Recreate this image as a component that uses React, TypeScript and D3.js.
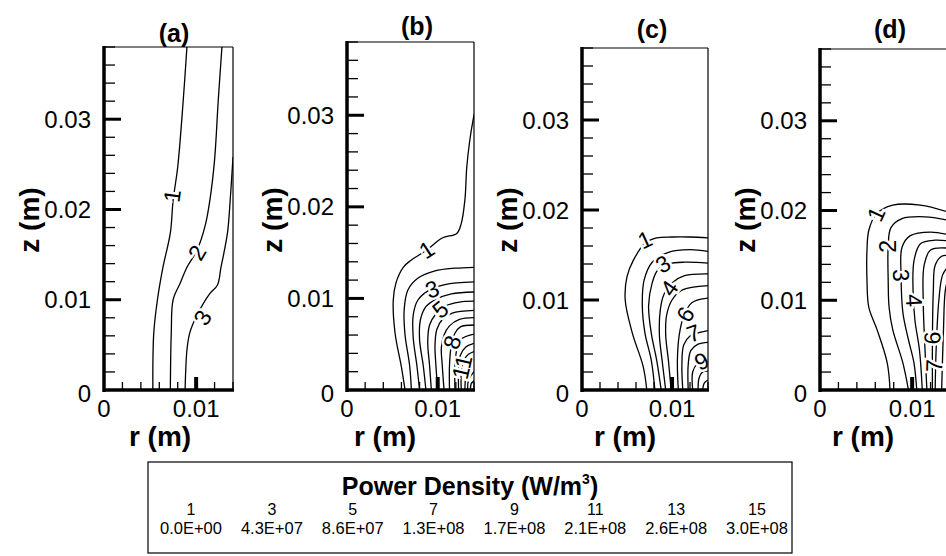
import React from "react";
import * as d3 from "d3";

type Pt = [number, number];
type Contour = [number, Pt[]];
type Label = [number, number, number];

// axis ranges (m)
const rDomain: [number, number] = [0, 0.014];
const zDomain: [number, number] = [0, 0.038];
const rTickLabels = [0, 0.01];
const zTickLabels = [0, 0.01, 0.02, 0.03];
const rMajor = [0.01];
const zMajor = [0.01, 0.02, 0.03];
const panelTitles = ["(a)", "(b)", "(c)", "(d)"];

// contour lines: [level, [[r, z], ...]]
const contoursA: Contour[] = [
  [1, [[0.0053, 0], [0.0054, 0.0063], [0.0058, 0.01], [0.0064, 0.0136], [0.0072, 0.0174], [0.0075, 0.021], [0.008, 0.0247], [0.0086, 0.0321], [0.009, 0.038]]],
  [2, [[0.0072, 0], [0.0073, 0.0063], [0.0075, 0.01], [0.0083, 0.0119], [0.009, 0.0136], [0.0101, 0.0155], [0.011, 0.0183], [0.0115, 0.0211], [0.012, 0.0255], [0.0124, 0.0321], [0.0128, 0.038]]],
  [3, [[0.0088, 0], [0.009, 0.0044], [0.0093, 0.0063], [0.0101, 0.0083], [0.0115, 0.0107], [0.0123, 0.0116], [0.0127, 0.0136], [0.0134, 0.0174], [0.0137, 0.0211], [0.014, 0.0258]]],
];
const labelsA: Label[] = [[1, 0.0074, 0.0215], [2, 0.0101, 0.0152], [3, 0.0107, 0.008]];

const contoursB: Contour[] = [
  [1, [[0.0064, 0], [0.006, 0.0025], [0.0053, 0.0062], [0.0051, 0.0098], [0.0054, 0.0117], [0.0062, 0.0134], [0.0071, 0.0142], [0.0088, 0.0153], [0.0105, 0.0166], [0.0121, 0.0171], [0.0126, 0.0182], [0.013, 0.0208], [0.0132, 0.0243], [0.0135, 0.027], [0.0139, 0.0295], [0.0141, 0.0304]]],
  [2, [[0.0071, 0], [0.0069, 0.0027], [0.0064, 0.006], [0.0063, 0.0087], [0.0067, 0.0109], [0.0078, 0.0122], [0.0097, 0.013], [0.0119, 0.0133], [0.014, 0.0134]]],
  [3, [[0.008, 0], [0.0077, 0.0027], [0.0073, 0.0057], [0.0073, 0.0082], [0.0078, 0.0098], [0.0089, 0.0108], [0.0108, 0.0115], [0.014, 0.0118]]],
  [4, [[0.0087, 0], [0.0084, 0.0027], [0.008, 0.0055], [0.0081, 0.0077], [0.0087, 0.0091], [0.0098, 0.0099], [0.0115, 0.0105], [0.014, 0.0107]]],
  [5, [[0.0093, 0], [0.0091, 0.0027], [0.0089, 0.0052], [0.0091, 0.0071], [0.0098, 0.0083], [0.0109, 0.0092], [0.0124, 0.0096], [0.014, 0.0097]]],
  [6, [[0.01, 0], [0.0098, 0.0027], [0.0097, 0.0049], [0.0099, 0.0066], [0.0105, 0.0077], [0.0116, 0.0084], [0.014, 0.0087]]],
  [7, [[0.0107, 0], [0.0105, 0.0027], [0.0104, 0.0046], [0.0107, 0.006], [0.0113, 0.007], [0.0124, 0.0077], [0.014, 0.0079]]],
  [8, [[0.0113, 0], [0.0113, 0.0027], [0.0115, 0.0049], [0.0119, 0.0062], [0.0125, 0.0069], [0.014, 0.0071]]],
  [9, [[0.0119, 0], [0.0119, 0.0027], [0.0121, 0.0044], [0.0125, 0.0055], [0.014, 0.0061]]],
  [10, [[0.0123, 0], [0.0123, 0.0022], [0.0125, 0.0038], [0.0131, 0.0047], [0.014, 0.0051]]],
  [11, [[0.0126, 0], [0.0126, 0.002], [0.0129, 0.0033], [0.0134, 0.0039], [0.014, 0.0042]]],
  [12, [[0.013, 0], [0.0131, 0.0016], [0.0134, 0.0026], [0.014, 0.0031]]],
  [13, [[0.0133, 0], [0.0134, 0.0011], [0.014, 0.002]]],
  [14, [[0.0136, 0], [0.0137, 0.0007], [0.014, 0.001]]],
];
const labelsB: Label[] = [[1, 0.0088, 0.0153], [3, 0.0094, 0.011], [5, 0.0103, 0.0088], [8, 0.0116, 0.0052], [11, 0.0127, 0.0025]];

const contoursC: Contour[] = [
  [1, [[0.0072, 0], [0.0068, 0.0026], [0.0056, 0.0063], [0.0048, 0.01], [0.005, 0.0126], [0.0057, 0.0144], [0.007, 0.0163], [0.0083, 0.0169], [0.01, 0.017], [0.012, 0.017], [0.014, 0.0169]]],
  [2, [[0.0081, 0], [0.0077, 0.0033], [0.007, 0.0063], [0.0067, 0.0094], [0.0069, 0.0122], [0.0078, 0.0142], [0.0096, 0.0153], [0.012, 0.0156], [0.014, 0.0154]]],
  [3, [[0.0088, 0], [0.0083, 0.0033], [0.0077, 0.0063], [0.0074, 0.0094], [0.0078, 0.0119], [0.0084, 0.0133], [0.0096, 0.014], [0.0114, 0.0142], [0.014, 0.0141]]],
  [4, [[0.0093, 0], [0.0089, 0.0033], [0.0086, 0.0061], [0.0087, 0.0089], [0.0091, 0.0106], [0.01, 0.0119], [0.0114, 0.0127], [0.014, 0.0129]]],
  [5, [[0.0099, 0], [0.0096, 0.0033], [0.0093, 0.0061], [0.0094, 0.0083], [0.01, 0.01], [0.0111, 0.0111], [0.014, 0.0116]]],
  [6, [[0.0107, 0], [0.0106, 0.0033], [0.0108, 0.0061], [0.0113, 0.0082], [0.0122, 0.0097], [0.014, 0.0102]]],
  [7, [[0.0112, 0], [0.0111, 0.0028], [0.0113, 0.005], [0.012, 0.006], [0.0131, 0.0064], [0.014, 0.0066]]],
  [8, [[0.0118, 0], [0.0118, 0.0028], [0.0121, 0.0044], [0.0129, 0.0051], [0.014, 0.0053]]],
  [9, [[0.0123, 0], [0.0123, 0.002], [0.0128, 0.0029], [0.0134, 0.0032], [0.014, 0.0033]]],
  [10, [[0.0129, 0], [0.013, 0.0013], [0.0134, 0.002], [0.014, 0.0021]]],
  [11, [[0.0134, 0], [0.0136, 0.0008], [0.014, 0.0011]]],
];
const labelsC: Label[] = [[1, 0.007, 0.0167], [3, 0.009, 0.014], [4, 0.0097, 0.0113], [6, 0.0115, 0.0084], [7, 0.0124, 0.0063], [9, 0.0133, 0.0032]];

const contoursD: Contour[] = [
  [1, [[0.0076, 0], [0.0073, 0.003], [0.0062, 0.0067], [0.0053, 0.0092], [0.0051, 0.0122], [0.0051, 0.0156], [0.0053, 0.0178], [0.0061, 0.0196], [0.0079, 0.0206], [0.0109, 0.0206], [0.014, 0.0198]]],
  [2, [[0.0096, 0], [0.009, 0.003], [0.0079, 0.0067], [0.0075, 0.0092], [0.0074, 0.0122], [0.0074, 0.016], [0.0077, 0.0181], [0.0089, 0.0191], [0.0114, 0.0193], [0.014, 0.0189]]],
  [3, [[0.0105, 0], [0.0102, 0.003], [0.0096, 0.0056], [0.009, 0.0086], [0.0088, 0.0128], [0.0089, 0.0159], [0.0098, 0.0172], [0.012, 0.0176], [0.014, 0.0173]]],
  [4, [[0.0111, 0], [0.0108, 0.0044], [0.0103, 0.0078], [0.0101, 0.0111], [0.0102, 0.0144], [0.0109, 0.0163], [0.0125, 0.0167], [0.014, 0.0166]]],
  [5, [[0.0116, 0], [0.0114, 0.0044], [0.0112, 0.01], [0.0113, 0.0139], [0.012, 0.0156], [0.014, 0.0158]]],
  [6, [[0.0122, 0], [0.0122, 0.0056], [0.0123, 0.0111], [0.0125, 0.0139], [0.0132, 0.0149], [0.014, 0.015]]],
  [7, [[0.0125, 0], [0.0126, 0.0044], [0.0129, 0.01], [0.0133, 0.0128], [0.014, 0.0139]]],
  [8, [[0.0132, 0], [0.0134, 0.0067], [0.0136, 0.0111], [0.014, 0.0128]]],
];
const labelsD: Label[] = [[1, 0.0061, 0.0196], [2, 0.0074, 0.016], [3, 0.0088, 0.0128], [4, 0.0102, 0.01], [6, 0.0122, 0.0058], [7, 0.0124, 0.0027]];

const legendLevels = [1, 3, 5, 7, 9, 11, 13, 15];
const legendValues = ["0.0E+00", "4.3E+07", "8.6E+07", "1.3E+08", "1.7E+08", "2.1E+08", "2.6E+08", "3.0E+08"];

const panelData = [
  { contours: contoursA, labels: labelsA },
  { contours: contoursB, labels: labelsB },
  { contours: contoursC, labels: labelsC },
  { contours: contoursD, labels: labelsD },
];

// page layout (pixels)
const W = 946, H = 556, BOTTOM = 390;
const frames = [
  { left: 104, right: 233, top: 47, titleY: 42, rLabelX: 160 },
  { left: 347, right: 474, top: 42, titleY: 35, rLabelX: 385 },
  { left: 582, right: 708, top: 48, titleY: 38, rLabelX: 625 },
  { left: 820, right: 949, top: 49, titleY: 38, rLabelX: 863 },
];
const FONT = "'Liberation Sans', Arial, Helvetica, sans-serif";

function segAngle(pts: Pt[], x: (v: number) => number, y: (v: number) => number, r: number, z: number) {
  const px = x(r), py = y(z);
  let best = 0, bd = Infinity;
  for (let i = 0; i < pts.length - 1; i++) {
    const ax = x(pts[i][0]), ay = y(pts[i][1]);
    const bx = x(pts[i + 1][0]), by = y(pts[i + 1][1]);
    const dx = bx - ax, dy = by - ay;
    const t = Math.max(0, Math.min(1, ((px - ax) * dx + (py - ay) * dy) / (dx * dx + dy * dy || 1)));
    const d = Math.hypot(ax + t * dx - px, ay + t * dy - py);
    if (d < bd) { bd = d; best = i; }
  }
  const a = pts[best], b = pts[best + 1];
  let ang = (Math.atan2(y(b[1]) - y(a[1]), x(b[0]) - x(a[0])) * 180) / Math.PI;
  if (ang > 90) ang -= 180;
  if (ang < -90) ang += 180;
  return ang;
}

function Panel({ idx }: { idx: number }) {
  const f = frames[idx];
  const { contours, labels } = panelData[idx];
  const x = d3.scaleLinear().domain(rDomain).range([f.left, f.right]);
  const y = d3.scaleLinear().domain(zDomain).range([BOTTOM, f.top]);
  const line = d3.line<Pt>().x(d => x(d[0])).y(d => y(d[1])).curve(d3.curveCatmullRom.alpha(0.5));
  const rMinor = x.ticks(7).filter(v => v > 0 && !rMajor.some(m => Math.abs(m - v) < 1e-9));
  const zMinor = y.ticks(19).filter(v => v > 0 && !zMajor.some(m => Math.abs(m - v) < 1e-9));
  const clipId = `clip${idx}`;
  const fmt = (v: number) => (v === 0 ? "0" : d3.format(".2f")(v));

  return (
    <g>
      <defs>
        <clipPath id={clipId}>
          <rect x={f.left} y={f.top} width={f.right - f.left} height={BOTTOM - f.top} />
        </clipPath>
      </defs>
      <g clipPath={`url(#${clipId})`}>
        {contours.map(([lev, pts]) => (
          <path key={lev} d={line(pts) || ""} fill="none" stroke="#000" strokeWidth={1.3} />
        ))}
        {labels.map(([lev, r, z]) => {
          const c = contours.find(k => k[0] === lev);
          const ang = c ? segAngle(c[1], x, y, r, z) : 0;
          return (
            <text key={lev} transform={`translate(${x(r)},${y(z)}) rotate(${ang})`} textAnchor="middle"
              dominantBaseline="central" fontSize={23} fontFamily={FONT} fill="#000"
              stroke="#fff" strokeWidth={5} paintOrder="stroke">{lev}</text>
          );
        })}
      </g>
      {/* frame */}
      <line x1={f.left} x2={f.right} y1={f.top} y2={f.top} stroke="#000" strokeWidth={1.2} />
      <line x1={f.right} x2={f.right} y1={f.top} y2={BOTTOM} stroke="#000" strokeWidth={1.2} />
      <line x1={f.left} x2={f.left} y1={f.top - 1} y2={BOTTOM + 2} stroke="#000" strokeWidth={3.5} />
      <line x1={f.left - 1} x2={f.right + 1} y1={BOTTOM} y2={BOTTOM} stroke="#000" strokeWidth={3.5} />
      {/* ticks */}
      {zMinor.map(v => (
        <line key={"zm" + v} x1={f.left} x2={f.left + 11} y1={y(v)} y2={y(v)} stroke="#000" strokeWidth={1.3} />
      ))}
      {zMajor.map(v => (
        <line key={"zM" + v} x1={f.left} x2={f.left + 17} y1={y(v)} y2={y(v)} stroke="#000" strokeWidth={3} />
      ))}
      {rMinor.map(v => (
        <line key={"rm" + v} x1={x(v)} x2={x(v)} y1={BOTTOM} y2={BOTTOM - 8} stroke="#000" strokeWidth={1.3} />
      ))}
      {rMajor.map(v => (
        <line key={"rM" + v} x1={x(v)} x2={x(v)} y1={BOTTOM} y2={BOTTOM - 13} stroke="#000" strokeWidth={4} />
      ))}
      {/* tick labels */}
      {zTickLabels.map(v => (
        <text key={"zl" + v} x={f.left - 13} y={y(v) + (v === 0 ? 3 : 0)} textAnchor="end" dominantBaseline="central"
          fontSize={24} fontFamily={FONT}>{fmt(v)}</text>
      ))}
      {rTickLabels.map(v => (
        <text key={"rl" + v} x={x(v)} y={BOTTOM + 27} textAnchor="middle" fontSize={24} fontFamily={FONT}>{fmt(v)}</text>
      ))}
      {/* axis titles */}
      <text x={f.rLabelX} y={446} textAnchor="middle" fontSize={28} fontWeight="bold" fontFamily={FONT}>r (m)</text>
      <text transform={`translate(${f.left - 75},220) rotate(-90)`} textAnchor="middle" dominantBaseline="central"
        fontSize={28} fontWeight="bold" fontFamily={FONT}>z (m)</text>
      <text x={f.left + 70} y={f.titleY} textAnchor="middle" fontSize={25} fontWeight="bold" fontFamily={FONT}>
        {panelTitles[idx]}
      </text>
    </g>
  );
}

function Legend() {
  const box = { x: 148, y: 462, w: 644, h: 91 };
  const col = d3.scalePoint<number>().domain(legendLevels).range([191, 757]);
  return (
    <g fontFamily={FONT}>
      <rect x={box.x} y={box.y} width={box.w} height={box.h} fill="none" stroke="#000" strokeWidth={1.2} />
      <text x={470} y={495} textAnchor="middle" fontSize={25} fontWeight="bold">
        Power Density (W/m<tspan fontSize={14} dy={-11}>3</tspan><tspan dy={11}>)</tspan>
      </text>
      {legendLevels.map((lev, i) => (
        <g key={lev}>
          <text x={col(lev)} y={515} textAnchor="middle" fontSize={16}>{lev}</text>
          <text x={col(lev)} y={534} textAnchor="middle" fontSize={16.5}>{legendValues[i]}</text>
        </g>
      ))}
    </g>
  );
}

export default function App() {
  return (
    <svg width={W} height={H} style={{ position: "absolute", left: 0, top: 0, background: "#fff" }}>
      <rect width={W} height={H} fill="#fff" />
      {frames.map((_, i) => <Panel key={i} idx={i} />)}
      <Legend />
    </svg>
  );
}
